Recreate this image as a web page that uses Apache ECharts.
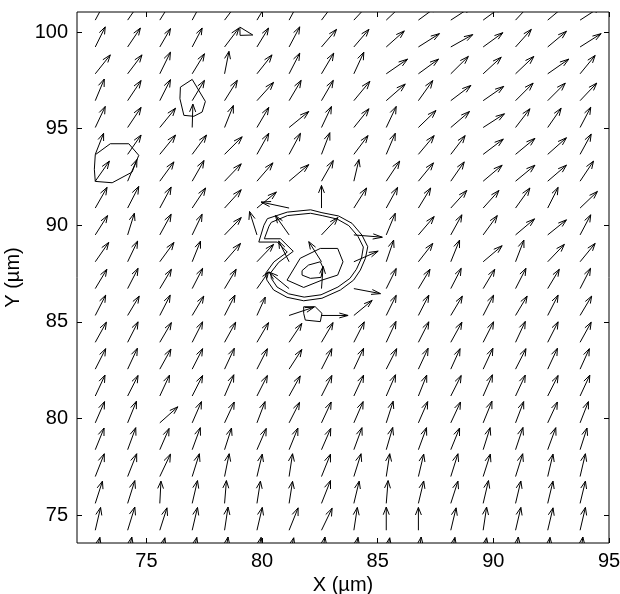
<!DOCTYPE html>
<html>
<head>
<meta charset="utf-8">
<script src="https://cdn.jsdelivr.net/npm/echarts@6/dist/echarts.min.js"></script>
<style>
  html, body { margin: 0; padding: 0; background: #fff; }
  #chart { width: 620px; height: 594px; }
</style>
</head>
<body>
<div id="chart"></div>
<script>
// grid of the vector field (µm)
const xs = [72.79, 74.19, 75.58, 76.98, 78.38, 79.78, 81.17, 82.57, 83.97, 85.37, 86.76, 88.16, 89.56, 90.96, 92.35, 93.75];
const ys = [72.82, 74.21, 75.60, 76.99, 78.38, 79.77, 81.16, 82.55, 83.94, 85.33, 86.72, 88.11, 89.50, 90.89, 92.28, 93.67, 95.06, 96.45, 97.84, 99.23, 100.62];

// displacement components, one row per y (bottom to top)
const uRows = [
  [0.20, 0.18, 0.22, 0.20, 0.15, 0.18, 0.20, 0.15, 0.18, 0.15, 0.12, 0.18, 0.15, 0.12, 0.10, 0.12],
  [0.23, 0.31, 0.31, 0.23, 0.15, 0.23, 0.39, 0.46, 0.15, 0.00, 0.00, 0.23, 0.15, 0.23, 0.23, 0.23],
  [0.31, 0.31, 0.05, 0.23, 0.08, 0.15, 0.15, 0.39, 0.23, 0.08, 0.23, 0.31, 0.23, 0.23, 0.23, 0.23],
  [0.39, 0.39, 0.46, 0.31, 0.20, 0.23, 0.15, 0.39, 0.31, 0.15, 0.23, 0.31, 0.31, 0.31, 0.23, 0.23],
  [0.38, 0.35, 0.40, 0.35, 0.30, 0.40, 0.38, 0.40, 0.35, 0.28, 0.35, 0.38, 0.30, 0.32, 0.35, 0.30],
  [0.40, 0.38, 0.78, 0.40, 0.42, 0.35, 0.45, 0.42, 0.40, 0.30, 0.40, 0.42, 0.38, 0.35, 0.42, 0.36],
  [0.42, 0.45, 0.42, 0.45, 0.40, 0.45, 0.48, 0.45, 0.42, 0.40, 0.36, 0.45, 0.40, 0.42, 0.45, 0.42],
  [0.45, 0.42, 0.48, 0.45, 0.42, 0.45, 0.55, 0.45, 0.42, 0.45, 0.42, 0.40, 0.42, 0.45, 0.42, 0.40],
  [0.48, 0.45, 0.50, 0.45, 0.48, 0.50, 0.55, 0.50, 0.45, 0.42, 0.45, 0.48, 0.45, 0.42, 0.45, 0.48],
  [0.45, 0.50, 0.45, 0.50, 0.45, 0.36, 1.08, 1.15, 0.79, 0.43, 0.45, 0.50, 0.45, 0.50, 0.45, 0.50],
  [0.50, 0.45, 0.50, 0.45, 0.50, 0.50, -0.87, 0.07, 1.15, 0.43, 0.50, 0.45, 0.50, 0.45, 0.50, 0.45],
  [0.58, 0.43, 0.61, 0.36, 0.69, 0.72, -0.45, -0.55, 1.05, 0.32, 0.62, 0.38, 0.82, 0.36, 0.72, 0.65],
  [0.53, 0.29, 0.49, 0.43, 0.72, -0.32, -0.59, 0.71, 1.23, 0.39, 0.68, 0.48, 0.61, 0.82, 0.81, 0.46],
  [0.51, 0.48, 0.49, 0.58, 0.72, 0.84, -1.21, 0.00, 0.55, 0.49, 0.53, 0.69, 0.68, 0.62, 0.45, 0.75],
  [0.61, 0.40, 0.61, 0.51, 0.72, 0.69, 0.85, 0.51, 0.22, 0.58, 0.65, 0.58, 0.82, 0.84, 0.81, 0.58],
  [0.36, 0.58, 0.68, 0.62, 0.76, 0.51, 0.49, 0.36, 0.61, 0.39, 0.68, 0.62, 0.87, 0.84, 0.81, 0.48],
  [0.43, 0.58, 0.68, 0.03, 0.38, 0.51, 0.85, 0.43, 0.65, 0.43, 0.76, 0.81, 0.92, 0.62, 0.58, 0.46],
  [0.39, 0.58, 0.46, 0.53, 0.55, 0.72, 0.52, 0.51, 0.69, 0.82, 0.62, 0.87, 0.89, 0.76, 0.76, 0.72],
  [0.65, 0.62, 0.46, 0.53, 0.19, 0.65, 0.46, 0.53, 0.43, 0.92, 0.87, 0.76, 0.78, 0.79, 0.91, 0.65],
  [0.43, 0.55, 0.46, 0.43, 0.62, 0.50, 0.46, 0.65, 0.65, 0.78, 0.91, 0.95, 0.85, 0.68, 0.81, 0.91],
  [0.45, 0.55, 0.50, 0.45, 0.60, 0.50, 0.45, 0.60, 0.70, 0.75, 0.85, 0.90, 0.85, 0.70, 0.80, 0.90]
];
const vRows = [
  [1.02, 1.04, 1.00, 1.02, 1.04, 1.02, 1.00, 1.04, 1.02, 1.00, 1.04, 1.02, 1.00, 1.04, 1.02, 1.04],
  [1.18, 1.20, 1.16, 1.18, 1.20, 1.18, 1.16, 1.14, 1.18, 1.20, 1.18, 1.16, 1.20, 1.18, 1.16, 1.18],
  [1.15, 1.18, 1.15, 1.18, 1.18, 1.15, 1.14, 1.18, 1.15, 1.18, 1.16, 1.15, 1.18, 1.16, 1.15, 1.15],
  [1.18, 1.18, 1.16, 1.18, 1.18, 1.16, 1.18, 1.16, 1.18, 1.18, 1.16, 1.18, 1.16, 1.18, 1.16, 1.18],
  [1.12, 1.14, 1.10, 1.14, 1.12, 1.10, 1.12, 1.10, 1.14, 1.15, 1.14, 1.12, 1.14, 1.15, 1.14, 1.12],
  [1.10, 1.12, 0.83, 1.10, 1.08, 1.10, 1.06, 1.08, 1.10, 1.12, 1.10, 1.08, 1.12, 1.10, 1.08, 1.10],
  [1.08, 1.06, 1.08, 1.06, 1.10, 1.06, 1.04, 1.06, 1.08, 1.10, 1.08, 1.06, 1.10, 1.08, 1.06, 1.08],
  [1.06, 1.08, 1.04, 1.06, 1.08, 1.06, 1.02, 1.06, 1.08, 1.06, 1.08, 1.06, 1.08, 1.06, 1.08, 1.06],
  [1.04, 1.06, 1.02, 1.06, 1.04, 1.02, 0.98, 1.02, 1.06, 1.08, 1.06, 1.04, 1.06, 1.08, 1.06, 1.04],
  [1.05, 1.00, 1.05, 1.00, 1.05, 0.95, 0.43, 0.00, 0.78, 1.04, 1.05, 1.00, 1.05, 1.00, 1.05, 1.00],
  [1.00, 1.05, 1.00, 1.05, 1.00, 0.86, 0.86, 1.15, -0.26, 1.04, 1.00, 1.05, 1.00, 1.05, 1.00, 1.05],
  [1.00, 1.07, 1.00, 1.07, 0.95, 0.90, 1.07, 1.04, 0.55, 1.12, 0.95, 1.12, 0.83, 1.12, 0.90, 0.95],
  [1.00, 1.12, 1.07, 1.07, 0.90, 1.21, 1.00, 0.90, -0.12, 1.12, 0.95, 1.04, 1.00, 0.83, 0.78, 1.04],
  [1.07, 1.12, 1.09, 1.04, 0.95, 0.83, 0.31, 1.17, 1.04, 1.07, 1.04, 0.91, 0.91, 1.04, 1.07, 0.86],
  [1.04, 1.12, 1.00, 1.07, 0.90, 0.95, 0.86, 1.07, 1.12, 1.04, 0.95, 1.00, 0.83, 0.83, 0.83, 1.04],
  [1.09, 1.00, 1.00, 1.00, 0.91, 1.09, 1.09, 1.12, 0.97, 1.09, 0.97, 0.97, 0.79, 0.83, 0.86, 1.05],
  [1.09, 1.04, 1.00, 1.21, 1.14, 1.04, 0.83, 1.09, 0.97, 1.09, 0.88, 0.83, 0.71, 0.97, 1.00, 1.05],
  [1.12, 1.04, 1.09, 1.05, 1.05, 0.95, 1.05, 1.05, 1.00, 0.86, 1.04, 0.79, 0.74, 0.91, 0.91, 0.91],
  [0.98, 0.98, 1.12, 1.04, 1.16, 0.98, 1.07, 1.07, 1.12, 0.76, 0.76, 0.90, 0.86, 0.90, 0.76, 0.95],
  [1.04, 0.98, 0.95, 0.98, 0.98, 0.98, 1.04, 0.91, 0.91, 0.83, 0.69, 0.64, 0.74, 0.91, 0.81, 0.69],
  [1.00, 0.95, 0.95, 1.00, 0.95, 1.00, 1.00, 0.95, 0.90, 0.85, 0.75, 0.70, 0.75, 0.90, 0.80, 0.70]
];

// contour lines (closed polylines)
const contourCellOuter = [[80.23, 90.34], [81.09, 90.68], [82.10, 90.80], [82.59, 90.65], [83.31, 90.48], [83.89, 90.10], [84.32, 89.49], [84.57, 88.89], [84.47, 88.29], [84.25, 87.68], [83.96, 87.16], [83.39, 86.65], [82.59, 86.22], [81.80, 86.09], [81.08, 86.27], [80.50, 86.65], [80.21, 87.16], [80.15, 87.50], [80.51, 88.10], [81.09, 88.61], [80.66, 89.13], [79.86, 89.13], [80.08, 90.00], [80.23, 90.34]];
const contourCellOuter2 = [[80.40, 90.15], [81.10, 90.50], [82.10, 90.62], [82.60, 90.50], [83.25, 90.32], [83.75, 89.98], [84.15, 89.42], [84.38, 88.87], [84.30, 88.30], [84.08, 87.72], [83.80, 87.25], [83.28, 86.80], [82.55, 86.40], [81.82, 86.28], [81.15, 86.45], [80.65, 86.80], [80.40, 87.25], [80.38, 87.55], [80.72, 88.08], [81.35, 88.65], [80.80, 89.30], [80.10, 89.30], [80.30, 89.95], [80.40, 90.15]];
const contourCellMid = [[81.08, 87.16], [81.65, 88.29], [82.52, 88.80], [83.27, 88.80], [83.50, 88.11], [83.27, 87.42], [82.59, 87.16], [81.80, 86.78], [81.08, 87.16]];
const contourCellInner = [[81.73, 87.65], [82.01, 87.94], [82.52, 88.11], [82.63, 87.82], [82.55, 87.30], [82.09, 87.25], [81.73, 87.42], [81.73, 87.65]];
const contourBelow = [[81.80, 85.78], [82.30, 85.78], [82.59, 85.44], [82.52, 85.01], [81.87, 85.09], [81.80, 85.44], [81.80, 85.78]];
const contourLeft = [[72.79, 93.65], [73.44, 94.22], [74.24, 94.22], [74.67, 93.62], [74.38, 92.75], [73.52, 92.20], [72.79, 92.27], [72.75, 92.90], [72.79, 93.65]];
const contourUpper = [[76.47, 97.15], [76.98, 97.55], [77.55, 96.41], [77.41, 95.86], [77.05, 95.64], [76.62, 95.69], [76.45, 96.55], [76.47, 97.15]];
const contourTop = [[79.04, 100.26], [79.60, 99.85], [79.05, 99.83], [79.04, 100.26]];

const xTicks = [75, 80, 85, 90, 95];
const yTicks = [75, 80, 85, 90, 95, 100];

const vectors = [];
ys.forEach((y, j) => {
  xs.forEach((x, i) => {
    vectors.push([x, y, uRows[j][i], vRows[j][i]]);
  });
});

const HEAD = 0.33; // arrow head size relative to vector length
const WIDE = 0.33;

function renderArrow(params, api) {
  const x = api.value(0), y = api.value(1), u = api.value(2), v = api.value(3);
  const tx = x + u, ty = y + v;
  const p0 = api.coord([x, y]);
  const p1 = api.coord([tx, ty]);
  const h1 = api.coord([tx - HEAD * (u + WIDE * v), ty - HEAD * (v - WIDE * u)]);
  const h2 = api.coord([tx - HEAD * (u - WIDE * v), ty - HEAD * (v + WIDE * u)]);
  return {
    type: 'group',
    children: [
      { type: 'line', shape: { x1: p0[0], y1: p0[1], x2: p1[0], y2: p1[1] }, style: { stroke: '#000', lineWidth: 1 } },
      { type: 'polyline', shape: { points: [h1, p1, h2] }, style: { stroke: '#000', fill: null, lineWidth: 1 } }
    ]
  };
}

const contours = [contourCellOuter, contourCellOuter2, contourCellMid, contourCellInner, contourBelow, contourLeft, contourUpper, contourTop];

const font = "'Liberation Sans', Helvetica, Arial, sans-serif";
const tickCommon = { show: true, inside: true, length: 5, lineStyle: { color: '#000', width: 1 } };

const chart = echarts.init(document.getElementById('chart'), null, { renderer: 'canvas' });
chart.setOption({
  animation: false,
  backgroundColor: '#fff',
  grid: {
    left: 77, right: 11, top: 12, bottom: 51,
    outerBoundsMode: 'none', containLabel: false,
    show: true, borderColor: '#000', borderWidth: 1, backgroundColor: 'transparent'
  },
  xAxis: [
    {
      type: 'value', min: 72, max: 95, position: 'bottom',
      name: 'X (µm)', nameLocation: 'middle', nameGap: 23,
      nameTextStyle: { color: '#000', fontSize: 20, fontFamily: font },
      axisLine: { show: false },
      axisTick: Object.assign({ customValues: xTicks }, tickCommon),
      axisLabel: { customValues: xTicks, color: '#000', fontSize: 20, fontFamily: font, margin: 8 },
      splitLine: { show: false }
    },
    {
      type: 'value', min: 72, max: 95, position: 'top',
      axisLine: { show: false },
      axisTick: Object.assign({ customValues: xTicks }, tickCommon),
      axisLabel: { show: false },
      splitLine: { show: false }
    }
  ],
  yAxis: [
    {
      type: 'value', min: 73.55, max: 101.04, position: 'left',
      name: 'Y (µm)', nameLocation: 'middle', nameGap: 49,
      nameTextStyle: { color: '#000', fontSize: 20, fontFamily: font },
      axisLine: { show: false },
      axisTick: Object.assign({ customValues: yTicks }, tickCommon),
      axisLabel: { customValues: yTicks, color: '#000', fontSize: 20, fontFamily: font, margin: 9 },
      splitLine: { show: false }
    },
    {
      type: 'value', min: 73.55, max: 101.04, position: 'right',
      axisLine: { show: false },
      axisTick: Object.assign({ customValues: yTicks }, tickCommon),
      axisLabel: { show: false },
      splitLine: { show: false }
    }
  ],
  series: [
    {
      type: 'custom',
      name: 'displacement',
      data: vectors,
      clip: true,
      renderItem: renderArrow,
      silent: true
    }
  ].concat(contours.map((c, k) => ({
    type: 'line',
    name: 'contour' + k,
    data: c,
    showSymbol: false,
    symbol: 'none',
    clip: true,
    silent: true,
    lineStyle: { color: '#000', width: 1 }
  })))
});
</script>
</body>
</html>
